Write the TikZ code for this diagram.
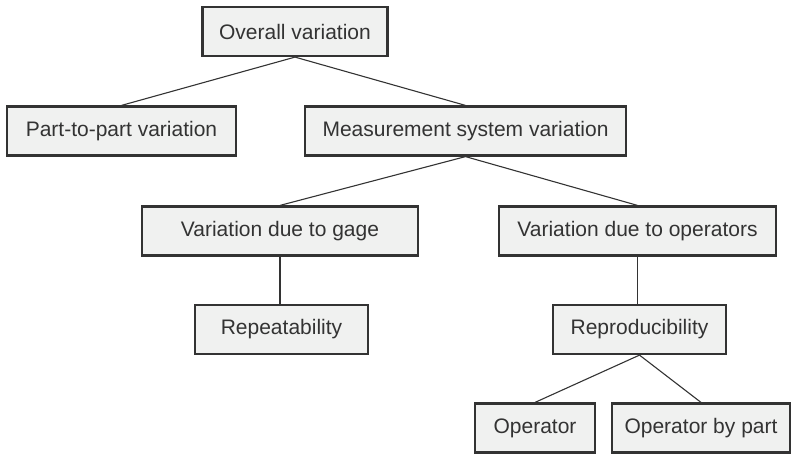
\documentclass[tikz,border=0pt]{standalone}
\usepackage{fontspec}
\setmainfont{Liberation Sans}
\definecolor{boxfill}{HTML}{F0F1F0}
\definecolor{ink}{HTML}{333333}
\begin{document}
\begin{tikzpicture}[x=1pt,y=-1pt,
  box/.style={draw=ink, line width=2.2pt, fill=boxfill, text=ink, minimum height=49pt, inner sep=0pt, font=\fontsize{21}{25}\selectfont},
  link/.style={draw=ink, line width=1.1pt}]
\useasboundingbox (0,0) rectangle (800,456);
\node[box, minimum width=185pt] (overall) at (295,31.5) {Overall variation};
\node[box, minimum width=229pt] (part) at (121.5,131) {Part-to-part variation};
\node[box, minimum width=321pt] (meas) at (465.5,131) {Measurement system variation};
\node[box, minimum width=276pt] (gage) at (280,231) {Variation due to gage};
\node[box, minimum width=277pt] (oper) at (637.5,231) {Variation due to operators};
\node[box, minimum width=173pt] (repeat) at (281.5,329.5) {Repeatability};
\node[box, minimum width=173pt] (repro) at (639.5,329.5) {Reproducibility};
\node[box, minimum width=120pt] (op) at (535,428) {Operator};
\node[box, minimum width=178pt] (opp) at (701,428) {Operator by part};
\draw[link] (overall.south) -- (part.north);
\draw[link] (overall.south) -- (meas.north);
\draw[link] (meas.south) -- (gage.north);
\draw[link] (meas.south) -- (oper.north);
\draw[link] (gage.south) -- (repeat.north -| gage.south);
\draw[link] (oper.south) -- (repro.north -| oper.south);
\draw[link] (repro.south) -- (op.north);
\draw[link] (repro.south) -- (opp.north);
\end{tikzpicture}
\end{document}
